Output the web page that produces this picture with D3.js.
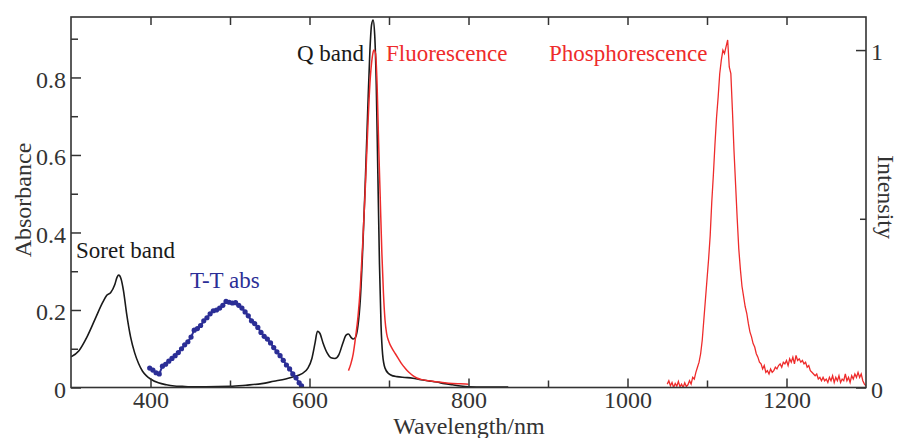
<!DOCTYPE html>
<html>
<head>
<meta charset="utf-8">
<script src="https://cdn.jsdelivr.net/npm/d3@7"></script>
<style>
  html, body { margin: 0; padding: 0; background: #fff; }
  svg { display: block; }
  svg text { font-family: "Liberation Serif", "Times New Roman", serif !important; }
</style>
</head>
<body>
<svg id="chart" width="898" height="438"></svg>
<script>
// ---------- DATA ----------
// Absorption spectrum (left axis, Absorbance)
const absWavelength = [300,310,320,330,340,345,350,355,358,360,363,366,370,375,380,385,390,395,400,410,420,430,440,450,470,500,520,540,555,570,580,590,598,603,607,610,613,617,622,627,632,637,642,646,649,652,655,658,661,664,667,670,673,676,678,680,682,684,686,688,690,692,695,700,705,710,720,730,740,750,760,770,780,790,800,820,850];
const absValue = [0.079,0.095,0.13,0.175,0.22,0.238,0.245,0.265,0.285,0.29,0.28,0.25,0.19,0.13,0.09,0.062,0.042,0.03,0.022,0.012,0.007,0.004,0.003,0.002,0.002,0.003,0.006,0.01,0.016,0.022,0.028,0.035,0.05,0.075,0.115,0.145,0.14,0.115,0.09,0.077,0.075,0.085,0.115,0.135,0.138,0.13,0.125,0.13,0.16,0.23,0.36,0.52,0.7,0.87,0.935,0.948,0.91,0.78,0.55,0.32,0.16,0.085,0.05,0.035,0.03,0.028,0.026,0.024,0.02,0.017,0.014,0.01,0.007,0.004,0.002,0.001,0.001];

// Triplet-triplet absorption (left axis)
const ttWavelength = [399,403,407,411,415,419,423,427,431,435,439,443,447,451,455,459,463,467,471,475,479,483,487,491,495,499,503,507,511,515,519,523,527,531,535,539,543,547,551,555,559,563,567,571,575,579,583,587,590];
const ttValue = [0.05,0.045,0.038,0.035,0.055,0.06,0.068,0.075,0.082,0.09,0.1,0.11,0.118,0.13,0.148,0.152,0.16,0.172,0.18,0.19,0.198,0.2,0.205,0.212,0.222,0.22,0.218,0.219,0.212,0.205,0.195,0.185,0.172,0.165,0.155,0.142,0.132,0.125,0.115,0.103,0.092,0.082,0.07,0.058,0.048,0.035,0.025,0.012,0.004];

// Fluorescence (right axis, Intensity)
const flWavelength = [649,652,655,658,661,664,667,670,673,676,679,681,683,685,687,689,691,693,695,697,700,704,708,712,716,720,725,730,735,740,750,760,770,780,790,800];
const flValue = [0.05,0.07,0.1,0.15,0.21,0.3,0.43,0.58,0.75,0.9,0.98,1.0,0.99,0.9,0.72,0.56,0.4,0.28,0.2,0.16,0.135,0.115,0.1,0.085,0.07,0.058,0.045,0.035,0.028,0.024,0.02,0.017,0.014,0.012,0.011,0.01];

// Phosphorescence (right axis, Intensity)
const phWavelength = [1050,1052,1054,1056,1058,1060,1062,1064,1066,1068,1070,1072,1074,1076,1078,1080,1082,1084,1086,1088,1090,1092,1094,1096,1098,1100,1102,1104,1106,1108,1110,1112,1114,1116,1118,1120,1122,1124,1126,1128,1130,1132,1134,1136,1138,1140,1142,1144,1146,1148,1150,1152,1154,1156,1158,1160,1162,1164,1166,1168,1170,1172,1174,1176,1178,1180,1182,1184,1186,1188,1190,1192,1194,1196,1198,1200,1202,1204,1206,1208,1210,1212,1214,1216,1218,1220,1222,1224,1226,1228,1230,1232,1234,1236,1238,1240,1242,1244,1246,1248,1250,1252,1254,1256,1258,1260,1262,1264,1266,1268,1270,1272,1274,1276,1278,1280,1282,1284,1286,1288,1290,1292,1294,1296,1298,1300];
const phValue = [0.01,0.02,0.005,0.015,0.0,0.012,0.004,0.018,0.002,0.01,0.0,0.014,0.003,0.008,0.02,0.01,0.03,0.025,0.045,0.06,0.075,0.1,0.14,0.2,0.26,0.32,0.38,0.45,0.55,0.63,0.72,0.8,0.86,0.93,0.97,1.0,0.99,1.01,1.03,0.95,0.93,0.82,0.7,0.6,0.5,0.41,0.35,0.3,0.27,0.24,0.22,0.19,0.165,0.15,0.13,0.12,0.1,0.09,0.075,0.07,0.055,0.065,0.045,0.05,0.04,0.055,0.045,0.05,0.06,0.055,0.065,0.07,0.06,0.075,0.07,0.08,0.065,0.085,0.075,0.09,0.07,0.095,0.08,0.085,0.075,0.08,0.07,0.075,0.06,0.065,0.05,0.045,0.04,0.035,0.04,0.025,0.03,0.02,0.03,0.02,0.025,0.015,0.03,0.02,0.035,0.015,0.03,0.02,0.035,0.015,0.025,0.02,0.04,0.02,0.03,0.015,0.035,0.025,0.04,0.03,0.045,0.03,0.04,0.02,0.01,0.005];

// Ticks
const xMajorTicks = [400,600,800,1000,1200];
const xMinorTicks = [500,700,900,1100];
const xTopTicks = [400,500,600,700,800,900,1000,1100,1200];
const yLeftMajorTicks = [0,0.2,0.4,0.6,0.8];
const yLeftMinorTicks = [0.1,0.3,0.5,0.7,0.9];
const yRightMajorTicks = [0,1];
const yRightMinorTicks = [0.5];

// Annotations
const labels = [
  {text: "Soret band", x: 76, y: 258, color: "#1a1a1a"},
  {text: "T-T abs", x: 190, y: 288, color: "#2b2e96"},
  {text: "Q band", x: 297, y: 61, color: "#1a1a1a"},
  {text: "Fluorescence", x: 386, y: 61, color: "#ee2b2b"},
  {text: "Phosphorescence", x: 549, y: 61, color: "#ee2b2b"}
];

// ---------- LAYOUT ----------
const L = 71, R = 866, T = 17, B = 387.5;
const FONT = "'Liberation Serif', 'Times New Roman', serif";
const svg = d3.select("#chart");

const x = d3.scaleLinear().domain([300, 1300]).range([L, R]);
const yL = d3.scaleLinear().domain([0, 0.956]).range([B, T]);
const yR = d3.scaleLinear().domain([0, 1.098]).range([B, T]);

const axisColor = "#333";
const tickFont = 24;

const absData = absWavelength.map((w, i) => [w, absValue[i]]);
const ttData = ttWavelength.map((w, i) => [w, ttValue[i]]);
const flData = flWavelength.map((w, i) => [w, flValue[i]]);
const phData = phWavelength.map((w, i) => [w, phValue[i]]);

svg.append("defs").append("clipPath").attr("id", "clip")
  .append("rect").attr("x", L).attr("y", T).attr("width", R - L).attr("height", B - T);

const plot = svg.append("g").attr("clip-path", "url(#clip)");

const lineL = d3.line().x(d => x(d[0])).y(d => yL(d[1])).curve(d3.curveMonotoneX);
const lineR = d3.line().x(d => x(d[0])).y(d => yR(d[1])).curve(d3.curveMonotoneX);
const lineRlin = d3.line().x(d => x(d[0])).y(d => yR(d[1]));
const lineTT = d3.line().x(d => x(d[0])).y(d => yL(d[1]));

plot.append("path").datum(absData).attr("d", lineL)
  .attr("fill", "none").attr("stroke", "#1a1a1a").attr("stroke-width", 1.6);

plot.append("path").datum(ttData).attr("d", lineTT)
  .attr("fill", "none").attr("stroke", "#2b2e96").attr("stroke-width", 2);
plot.append("g").selectAll("circle").data(ttData).join("circle")
  .attr("cx", d => x(d[0])).attr("cy", d => yL(d[1])).attr("r", 2.6)
  .attr("fill", "#2b2e96");

plot.append("path").datum(flData).attr("d", lineR)
  .attr("fill", "none").attr("stroke", "#ee2b2b").attr("stroke-width", 1.5);

plot.append("path").datum(phData).attr("d", lineRlin)
  .attr("fill", "none").attr("stroke", "#ee2b2b").attr("stroke-width", 1.3);

function styleAxis(g) {
  g.attr("font-family", FONT);
  g.select(".domain").remove();
  g.selectAll(".tick line").attr("stroke", axisColor).attr("stroke-width", 1.5);
  g.selectAll(".tick text").attr("fill", "#333").attr("font-size", tickFont).attr("font-family", FONT);
}

// bottom
svg.append("g").attr("transform", `translate(0,${B})`)
  .call(d3.axisBottom(x).tickValues(xMajorTicks).tickSizeInner(-9).tickSizeOuter(0).tickPadding(4).tickFormat(d3.format("d")))
  .call(styleAxis)
  .selectAll(".tick text").attr("dy", "0.7em");
svg.append("g").attr("transform", `translate(0,${B})`)
  .call(d3.axisBottom(x).tickValues(xMinorTicks).tickSizeInner(-7).tickSizeOuter(0).tickFormat(""))
  .call(styleAxis);
// top
svg.append("g").attr("transform", `translate(0,${T})`)
  .call(d3.axisTop(x).tickValues(xTopTicks).tickSizeInner(-8).tickSizeOuter(0).tickFormat(""))
  .call(styleAxis);
// left
svg.append("g").attr("transform", `translate(${L},0)`)
  .call(d3.axisLeft(yL).tickValues(yLeftMajorTicks).tickSizeInner(-10).tickSizeOuter(0).tickPadding(5)
    .tickFormat(d => d === 0 ? "0" : d3.format(".1f")(d)))
  .call(styleAxis)
  .selectAll(".tick text").attr("dy", "0.4em");
svg.append("g").attr("transform", `translate(${L},0)`)
  .call(d3.axisLeft(yL).tickValues(yLeftMinorTicks).tickSizeInner(-7).tickSizeOuter(0).tickFormat(""))
  .call(styleAxis);
// right
svg.append("g").attr("transform", `translate(${R},0)`)
  .call(d3.axisRight(yR).tickValues(yRightMajorTicks).tickSizeInner(-10).tickSizeOuter(0).tickPadding(5).tickFormat(d3.format("d")))
  .call(styleAxis)
  .selectAll(".tick text").attr("dy", "0.4em");
svg.append("g").attr("transform", `translate(${R},0)`)
  .call(d3.axisRight(yR).tickValues(yRightMinorTicks).tickSizeInner(-6).tickSizeOuter(0).tickFormat(""))
  .call(styleAxis);

// frame
svg.append("rect").attr("x", L).attr("y", T).attr("width", R - L).attr("height", B - T)
  .attr("fill", "none").attr("stroke", axisColor).attr("stroke-width", 1.6);

// axis titles
svg.append("text").attr("x", 469).attr("y", 434).attr("text-anchor", "middle")
  .attr("fill", "#333").attr("font-family", FONT).attr("font-size", 24).text("Wavelength/nm");
svg.append("text").attr("transform", "translate(31,200) rotate(-90)").attr("text-anchor", "middle")
  .attr("fill", "#333").attr("font-family", FONT).attr("font-size", 24).text("Absorbance");
svg.append("text").attr("transform", "translate(878,197) rotate(90)").attr("text-anchor", "middle")
  .attr("fill", "#333").attr("font-family", FONT).attr("font-size", 24).text("Intensity");

// annotations
svg.append("g").attr("font-family", FONT).selectAll("text").data(labels).join("text")
  .attr("x", d => d.x).attr("y", d => d.y).attr("fill", d => d.color)
  .attr("font-family", FONT).attr("font-size", 23).text(d => d.text);
</script>
</body>
</html>
